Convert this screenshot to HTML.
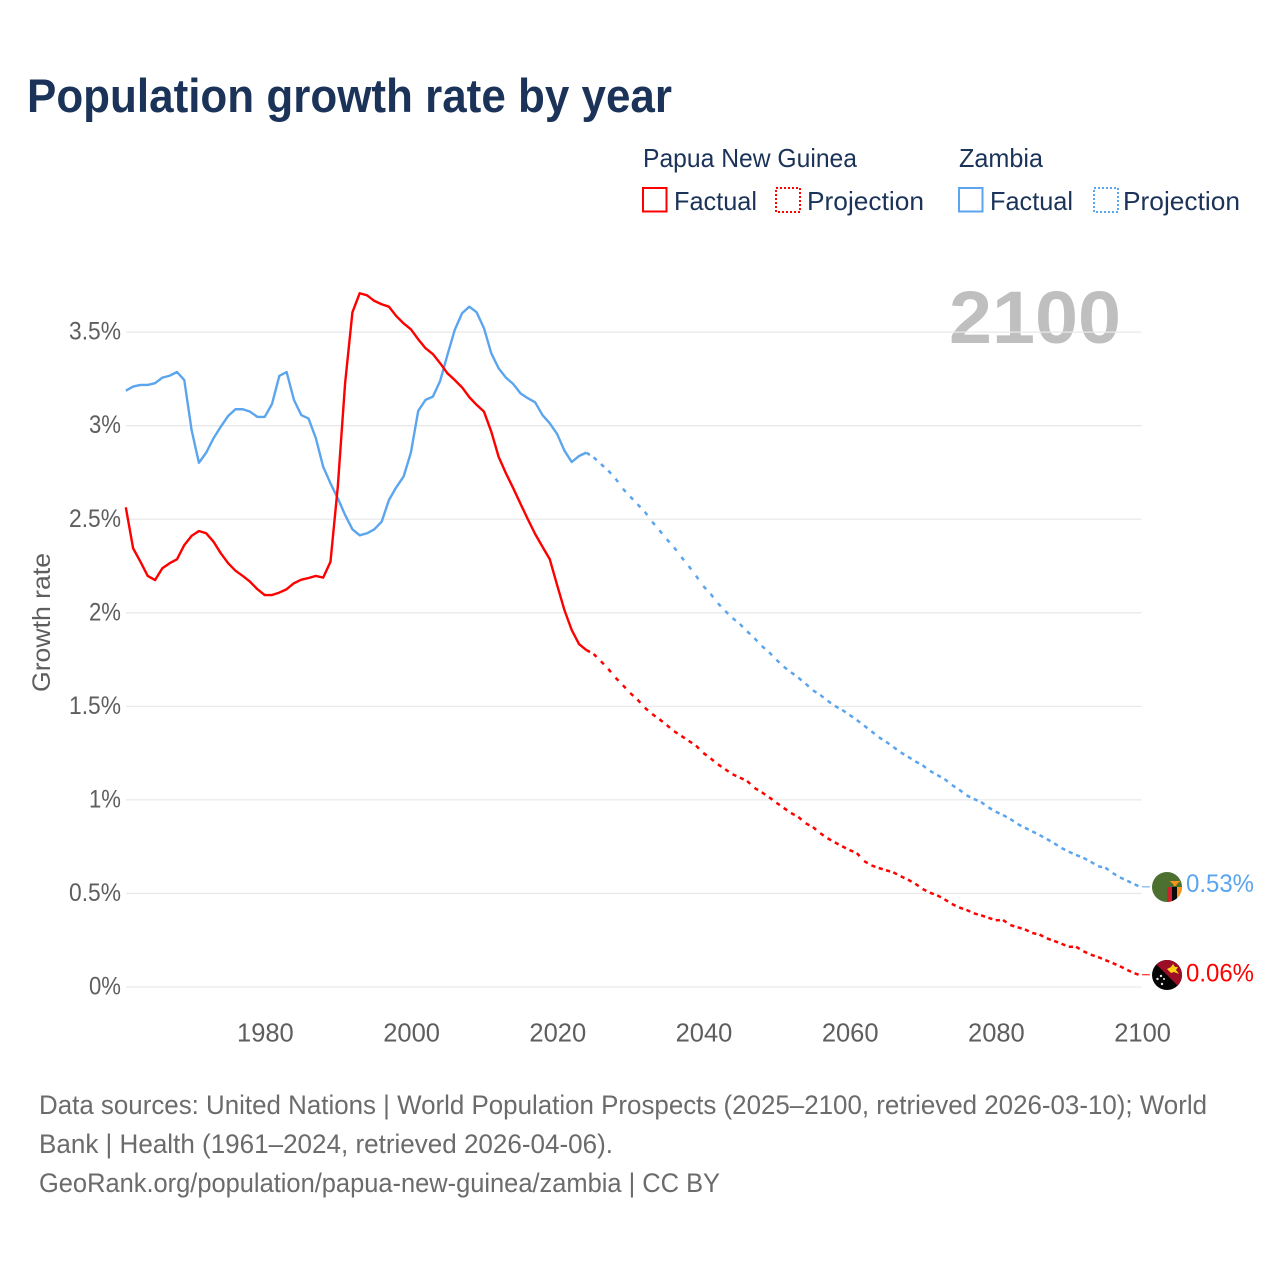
<!DOCTYPE html>
<html lang="en">
<head>
<meta charset="utf-8">
<title>Population growth rate by year</title>
<style>
  html, body { margin: 0; padding: 0; background: #fff; }
  svg { display: block; font-family: "Liberation Sans", sans-serif; }
  .legend-text { font-size: 26px; fill: #1b3358; }
  .foot { font-size: 27px; fill: #6b6b6b; }
  .tick { font-size: 25px; fill: #5e5e5e; }
</style>
</head>
<body>
<svg id="chart" width="1280" height="1280" viewBox="0 0 1280 1280" xmlns="http://www.w3.org/2000/svg">
  <rect x="0" y="0" width="1280" height="1280" fill="#ffffff"/>
  <text x="27" y="112" font-size="47" font-weight="700" fill="#1b3358" textLength="645" lengthAdjust="spacingAndGlyphs">Population growth rate by year</text>

  <g>
    <text class="legend-text" x="643" y="167" textLength="214" lengthAdjust="spacingAndGlyphs">Papua New Guinea</text>
    <text class="legend-text" x="959" y="167" textLength="84" lengthAdjust="spacingAndGlyphs">Zambia</text>
    <g>
      <rect x="643" y="188" width="23.5" height="23.5" fill="none" stroke="#ff0000" stroke-width="2"/>
      <text class="legend-text" x="674" y="210" textLength="83" lengthAdjust="spacingAndGlyphs">Factual</text>
    </g>
    <g>
      <rect x="776" y="188" width="24" height="24" fill="none" stroke="#ff0000" stroke-width="2" stroke-dasharray="2 2"/>
      <text class="legend-text" x="807" y="210" textLength="117" lengthAdjust="spacingAndGlyphs">Projection</text>
    </g>
    <g>
      <rect x="959" y="188" width="23.5" height="23.5" fill="none" stroke="#5ba5ee" stroke-width="2"/>
      <text class="legend-text" x="990" y="210" textLength="83" lengthAdjust="spacingAndGlyphs">Factual</text>
    </g>
    <g>
      <rect x="1094" y="188" width="24" height="24" fill="none" stroke="#5ba5ee" stroke-width="2" stroke-dasharray="2 2"/>
      <text class="legend-text" x="1123" y="210" textLength="117" lengthAdjust="spacingAndGlyphs">Projection</text>
    </g>
  </g>

  <text x="949" y="343" font-size="74" font-weight="700" fill="#bfbfbf" textLength="172" lengthAdjust="spacingAndGlyphs">2100</text>

  <text x="0" y="0" transform="translate(50 692) rotate(-90)" font-size="25" fill="#5e5e5e" textLength="139" lengthAdjust="spacingAndGlyphs">Growth rate</text>

  <g id="grid"></g>
  <g id="yticks"></g>
  <g id="xticks"></g>
  <g id="series"></g>

  <defs>
    <clipPath id="flagClipZm"><circle cx="1167" cy="887" r="15"/></clipPath>
    <clipPath id="flagClipPng"><circle cx="1167" cy="975" r="15"/></clipPath>
  </defs>

  <g clip-path="url(#flagClipZm)">
    <rect x="1152" y="872" width="30" height="30" fill="#4b7030"/>
    <rect x="1167" y="887" width="5" height="16" fill="#d1202f"/>
    <rect x="1172" y="887" width="5" height="16" fill="#0b0b0b"/>
    <rect x="1177" y="887" width="5" height="16" fill="#f7941d"/>
    <path d="M1169.5 881 L1180.5 881 L1177 884 L1176 886 L1174 886 L1173 884 Z" fill="#f7941d"/>
  </g>
  <g clip-path="url(#flagClipPng)">
    <rect x="1152" y="960" width="30" height="30" fill="#050505"/>
    <polygon points="1152,960 1182,960 1182,990" fill="#9c0d26"/>
    <path d="M1167 969 L1171 967 L1173 964 L1175 967 L1178 967 L1176 970 L1179 974 L1174 972 L1171 973 Z" fill="#fcd116"/>
    <circle cx="1161" cy="976" r="1.2" fill="#e8e8e8"/>
    <circle cx="1157.5" cy="979" r="1.2" fill="#e8e8e8"/>
    <circle cx="1164" cy="979" r="1" fill="#e8e8e8"/>
    <circle cx="1162" cy="984" r="1.2" fill="#e8e8e8"/>
  </g>

  <text x="1186" y="892" font-size="25" fill="#5ba5ee" textLength="68" lengthAdjust="spacingAndGlyphs">0.53%</text>
  <text x="1186" y="981.5" font-size="25" fill="#ff0000" textLength="68" lengthAdjust="spacingAndGlyphs">0.06%</text>

  <g>
    <text class="foot" x="39" y="1114" textLength="1168" lengthAdjust="spacingAndGlyphs">Data sources: United Nations | World Population Prospects (2025–2100, retrieved 2026-03-10); World</text>
    <text class="foot" x="39" y="1153" textLength="574" lengthAdjust="spacingAndGlyphs">Bank | Health (1961–2024, retrieved 2026-04-06).</text>
    <text class="foot" x="39" y="1192" textLength="681" lengthAdjust="spacingAndGlyphs">GeoRank.org/population/papua-new-guinea/zambia | CC BY</text>
  </g>
</svg>

<script>
const firstFactualYear = 1961;
const firstProjectionYear = 2025;
const yTickValues = [0, 0.5, 1, 1.5, 2, 2.5, 3, 3.5];
const yTickLabels = ["0%", "0.5%", "1%", "1.5%", "2%", "2.5%", "3%", "3.5%"];
const xTickYears = [1980, 2000, 2020, 2040, 2060, 2080, 2100];
const xTickLabels = ["1980", "2000", "2020", "2040", "2060", "2080", "2100"];

const pngFactual = [2.564,2.345,2.273,2.197,2.175,2.238,2.265,2.286,2.362,2.411,2.437,2.425,2.380,2.318,2.265,2.225,2.197,2.166,2.126,2.095,2.095,2.108,2.126,2.158,2.177,2.186,2.197,2.188,2.273,2.674,3.227,3.606,3.708,3.697,3.667,3.649,3.636,3.586,3.547,3.515,3.462,3.414,3.383,3.334,3.280,3.244,3.205,3.152,3.111,3.075,2.968,2.834,2.746,2.666,2.582,2.500,2.421,2.353,2.286,2.149,2.015,1.908,1.833,1.801];
const pngProjection = [1.780,1.741,1.700,1.653,1.613,1.571,1.536,1.493,1.459,1.431,1.400,1.367,1.342,1.316,1.290,1.251,1.222,1.190,1.164,1.137,1.119,1.101,1.064,1.041,1.014,0.985,0.957,0.930,0.909,0.875,0.855,0.822,0.795,0.773,0.752,0.732,0.716,0.673,0.650,0.636,0.624,0.613,0.592,0.574,0.552,0.524,0.504,0.490,0.469,0.444,0.425,0.412,0.394,0.383,0.370,0.357,0.358,0.331,0.319,0.308,0.289,0.280,0.260,0.246,0.231,0.215,0.215,0.191,0.173,0.160,0.144,0.128,0.111,0.091,0.073,0.060];
const zambiaFactual = [3.187,3.209,3.218,3.218,3.227,3.257,3.267,3.287,3.244,2.977,2.802,2.856,2.933,2.995,3.052,3.088,3.088,3.075,3.047,3.047,3.116,3.266,3.287,3.138,3.057,3.038,2.933,2.781,2.692,2.612,2.523,2.446,2.414,2.425,2.446,2.487,2.603,2.671,2.728,2.856,3.079,3.138,3.155,3.239,3.378,3.512,3.601,3.636,3.606,3.521,3.387,3.307,3.257,3.223,3.173,3.147,3.125,3.057,3.013,2.956,2.867,2.806,2.838,2.856];
const zambiaProjection = [2.831,2.795,2.760,2.717,2.663,2.621,2.580,2.540,2.487,2.441,2.393,2.350,2.298,2.250,2.198,2.143,2.101,2.051,2.010,1.972,1.940,1.901,1.864,1.823,1.789,1.749,1.712,1.682,1.653,1.621,1.586,1.561,1.530,1.502,1.481,1.454,1.427,1.397,1.367,1.335,1.311,1.283,1.254,1.231,1.206,1.185,1.155,1.133,1.112,1.080,1.055,1.025,1.005,0.989,0.960,0.937,0.919,0.898,0.871,0.851,0.832,0.812,0.791,0.768,0.743,0.723,0.706,0.690,0.670,0.645,0.638,0.609,0.586,0.568,0.549,0.530];

const NS = "http://www.w3.org/2000/svg";
function xScale(year) { return 125.8 + (year - 1961) * 7.31; }
function yScale(v) { return 987 - 187.1 * v; }
function make(tag, attrs, parent) {
  const el = document.createElementNS(NS, tag);
  for (const k in attrs) el.setAttribute(k, attrs[k]);
  parent.appendChild(el);
  return el;
}

const gridGroup = document.getElementById("grid");
const yGroup = document.getElementById("yticks");
const xGroup = document.getElementById("xticks");
const seriesGroup = document.getElementById("series");

yTickValues.forEach(function (v, i) {
  const line = make("line", { x1: 126, x2: 1141.5, y1: yScale(v), y2: yScale(v), stroke: "#e9e9e9", "stroke-width": 1.3 }, gridGroup);
  
  
  const label = make("text", { class: "tick", x: 121, y: yScale(v) + 7.5, "text-anchor": "end", textLength: yTickLabels[i].length > 2 ? 52 : 32, lengthAdjust: "spacingAndGlyphs" }, yGroup);
  
  
  label.textContent = yTickLabels[i];
});

xTickYears.forEach(function (yr, i) {
  const label = make("text", { class: "tick", x: xScale(yr) + 0.7, y: 1041.5, "text-anchor": "middle", style: "font-size:25.5px" }, xGroup);
  
  
  label.textContent = xTickLabels[i];
});

function solidPath(values) {
  return values.map(function (v, i) {
    return (i ? "L" : "M") + xScale(firstFactualYear + i).toFixed(2) + " " + yScale(v).toFixed(2);
  }).join(" ");
}
function dashedPath(lastFactual, values) {
  const all = [lastFactual].concat(values);
  const startYear = firstProjectionYear - 1;
  const parts = [];
  for (let i = 0; i < all.length - 1; i++) {
    parts.push("M" + xScale(startYear + i).toFixed(2) + " " + yScale(all[i]).toFixed(2) +
               " L" + xScale(startYear + i + 1).toFixed(2) + " " + yScale(all[i + 1]).toFixed(2));
  }
  return parts.join(" ");
}

const zmSolid = make("path", { d: solidPath(zambiaFactual), fill: "none", stroke: "#5ba5ee", "stroke-width": 2.4, "stroke-linejoin": "round" }, seriesGroup);



const pngSolid = make("path", { d: solidPath(pngFactual), fill: "none", stroke: "#ff0000", "stroke-width": 2.4, "stroke-linejoin": "round" }, seriesGroup);



const zmDash = make("path", { d: dashedPath(zambiaFactual[zambiaFactual.length - 1], zambiaProjection), fill: "none", stroke: "#5ba5ee", "stroke-width": 2.5, "stroke-dasharray": "4.2 100" }, seriesGroup);



const pngDash = make("path", { d: dashedPath(pngFactual[pngFactual.length - 1], pngProjection), fill: "none", stroke: "#ff0000", "stroke-width": 2.5, "stroke-dasharray": "4.2 100" }, seriesGroup);



const lastZm = zambiaProjection[zambiaProjection.length - 1];
const lastPng = pngProjection[pngProjection.length - 1];
const zmConn = make("line", { x1: xScale(2100), x2: xScale(2100) + 8, y1: yScale(lastZm) - 1, y2: yScale(lastZm) - 1, stroke: "#5ba5ee", "stroke-width": 1 }, seriesGroup);


const pngConn = make("line", { x1: xScale(2100), x2: xScale(2100) + 8, y1: yScale(lastPng) - 1, y2: yScale(lastPng) - 1, stroke: "#ff0000", "stroke-width": 1 }, seriesGroup);


</script>
</body>
</html>
